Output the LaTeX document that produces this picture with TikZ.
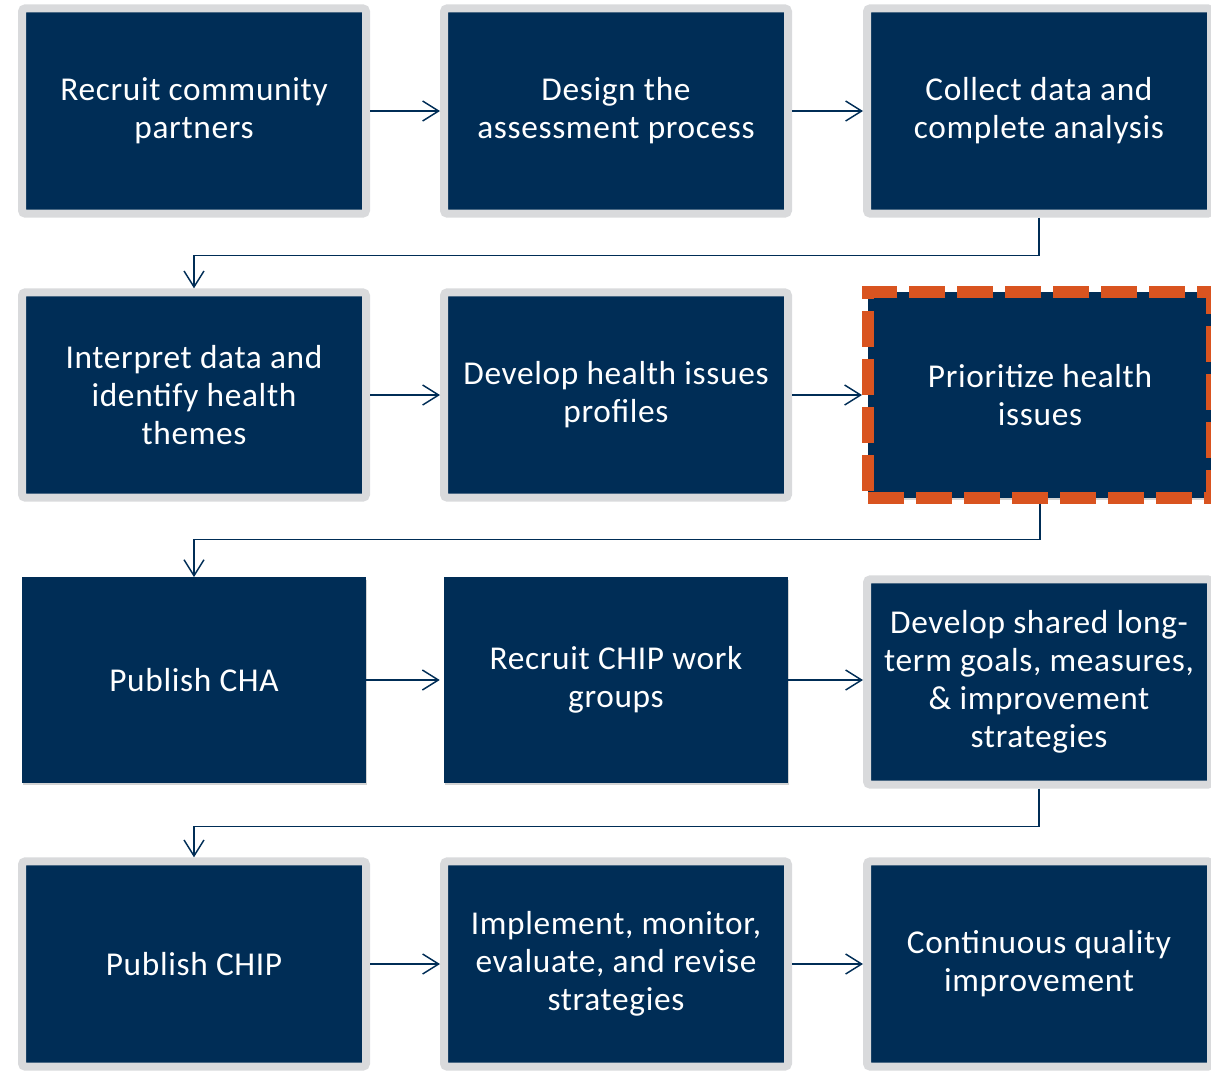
\documentclass[tikz,border=0pt]{standalone}
\usepackage{fontspec}
\setmainfont{Carlito}[LetterSpace=2]
\usetikzlibrary{arrows.meta,shadows}

\definecolor{navy}{RGB}{0,45,86}
\definecolor{framegray}{RGB}{217,218,220}
\definecolor{hilite}{RGB}{217,84,32}

\tikzset{
  stepbase/.style={fill=navy,text=white,align=center,inner sep=0pt,
    minimum width=258pt,minimum height=154pt,
    font=\fontsize{25}{28.5}\selectfont,
    drop shadow={shadow xshift=1pt,shadow yshift=-1.8pt,opacity=.35}},
  framed/.style={stepbase,draw=framegray,line width=6pt,rounded corners=2.5pt},
  plain/.style={stepbase},
  marked/.style={stepbase,draw=hilite,line width=9pt,dash pattern=on 27pt off 9pt},
  flow/.style={draw=navy,line width=1.1pt,-{Straight Barb[length=12pt,width=15pt]}},
}

\begin{document}
\begin{tikzpicture}[x=0.75pt,y=-0.75pt]
  \useasboundingbox (0,0) rectangle (1211,1072);

  % row 1
  \node[framed] (recruit) at (194,111) {Recruit community\\partners};
  \node[framed] (design)  at (616,111) {Design the\\assessment process};
  \node[framed] (collect) at (1039,111) {Collect data and\\complete analysis};

  % row 2
  \node[framed] (interp)   at (194,395) {Interpret data and\\identify health\\themes};
  \node[framed] (profiles) at (616,395) {Develop health issues\\profiles};
  \node[marked] (prior)    at (1040,395) {Prioritize health\\issues};

  % row 3
  \node[plain]  (pubcha)  at (194,680) {Publish CHA};
  \node[plain]  (workgrp) at (616,680) {Recruit CHIP work\\groups};
  \node[framed] (goals)   at (1039,682) {Develop shared long-\\term goals, measures,\\\& improvement\\strategies};

  % row 4
  \node[framed] (pubchip)   at (194,964) {Publish CHIP};
  \node[framed] (implement) at (616,964) {Implement, monitor,\\evaluate, and revise\\strategies};
  \node[framed] (cqi)       at (1039,964) {Continuous quality\\improvement};

  \draw[flow] (recruit) -- (design);
  \draw[flow] (design) -- (collect);
  \draw[flow] (interp) -- (profiles);
  \draw[flow] (profiles) -- (prior);
  \draw[flow,shorten >=3pt] (pubcha) -- (workgrp);
  \draw[flow] (workgrp) -- (goals.west |- workgrp);
  \draw[flow] (pubchip) -- (implement);
  \draw[flow] (implement) -- (cqi);

  \draw[flow] (collect.south) -- ++(0,38) -| (interp.north);
  \draw[flow] (prior.south) -- ++(0,36) -| (pubcha.north);
  \draw[flow] (goals.south) -- ++(0,38) -| (pubchip.north);
\end{tikzpicture}
\end{document}
